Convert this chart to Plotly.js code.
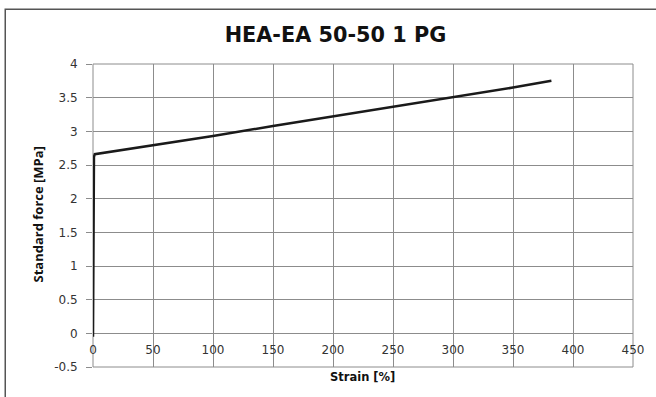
<!DOCTYPE html>
<html>
<head>
<meta charset="utf-8">
<script src="https://cdn.plot.ly/plotly-3.0.1.min.js"></script>
<style>
html,body{margin:0;padding:0;background:#fff;}
#chart{width:656px;height:397px;}
</style>
</head>
<body>
<div id="chart"></div>
<script>
const strain = [0, 0.3, 0.8, 1.5, 50, 100, 150, 200, 250, 300, 350, 382];
const force = [-0.05, 1.2, 2.62, 2.66, 2.79, 2.93, 3.08, 3.22, 3.37, 3.51, 3.65, 3.75];
const xTicks = [0, 50, 100, 150, 200, 250, 300, 350, 400, 450];
const yTicks = [-0.5, 0, 0.5, 1, 1.5, 2, 2.5, 3, 3.5, 4];
const yTickText = ['-0.5', '0', '0.5', '1', '1.5', '2', '2.5', '3', '3.5', '4'];

const gridColor = '#8c8c8c';
const tickFont = {family: 'DejaVu Sans, Verdana, sans-serif', size: 12, color: '#333'};

const trace = {
  x: strain, y: force, type: 'scatter', mode: 'lines',
  line: {color: '#1a1a1a', width: 2.5}, hoverinfo: 'skip'
};

const layout = {
  width: 656, height: 397,
  margin: {l: 92.7, r: 23.3, t: 64.3, b: 29.7},
  paper_bgcolor: '#fff', plot_bgcolor: '#fff',
  showlegend: false,
  title: {
    text: '<b>HEA-EA 50-50 1 PG</b>',
    font: {family: 'DejaVu Sans, sans-serif', size: 20.8, color: '#111'},
    xref: 'container', x: 335.5/656, xanchor: 'center',
    yref: 'container', y: 1 - 34.7/397, yanchor: 'middle'
  },
  xaxis: {
    range: [0, 450], tickmode: 'array', tickvals: xTicks,
    anchor: 'free', position: 0.5/4.5,
    showgrid: true, gridcolor: gridColor, gridwidth: 1,
    zeroline: false, showline: false, ticks: '',
    ticklabelstandoff: 8,
    tickfont: tickFont
  },
  yaxis: {
    range: [-0.5, 4], tickmode: 'array', tickvals: yTicks, ticktext: yTickText,
    showgrid: true, gridcolor: gridColor, gridwidth: 1,
    zeroline: false, showline: false,
    ticks: 'outside', ticklen: 6, tickcolor: gridColor, tickwidth: 1,
    ticklabelstandoff: 6,
    tickfont: tickFont
  },
  annotations: [
    {text: '<b>Strain [%]</b>', xref: 'paper', yref: 'paper', x: 0.499, y: (367.3-377.7)/303,
     xanchor: 'center', yanchor: 'middle', showarrow: false,
     font: {family: 'DejaVu Sans, Verdana, sans-serif', size: 11.5, color: '#111'}},
    {text: '<b>Standard force [MPa]</b>', xref: 'paper', yref: 'paper', x: (37.5-92.7)/539.7, y: (367.3-215)/303,
     xanchor: 'center', yanchor: 'middle', showarrow: false, textangle: -90,
     font: {family: 'Liberation Sans Narrow, Open Sans, sans-serif', size: 13, color: '#111'}}
  ],
  shapes: [
    {type: 'rect', xref: 'paper', yref: 'paper', x0: 0, x1: 1, y0: 0, y1: 1,
     line: {color: gridColor, width: 1}, fillcolor: 'rgba(0,0,0,0)', layer: 'below'},
    {type: 'rect', xref: 'paper', yref: 'paper', x0: (5-92.7)/539.7, x1: 1.2, y0: -0.3, y1: (367.3-9.5)/303,
     line: {color: '#555', width: 1.5}, fillcolor: 'rgba(0,0,0,0)'}
  ]
};

Plotly.newPlot('chart', [trace], layout, {staticPlot: true, displayModeBar: false});
</script>
</body>
</html>
